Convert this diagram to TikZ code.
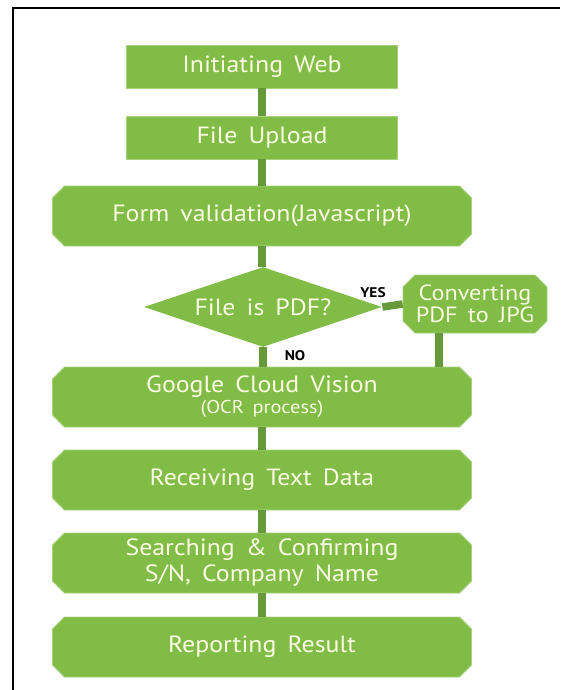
\documentclass[tikz,border=0pt]{standalone}
\usepackage{fontspec}
\setmainfont{PT Sans}[WordSpace=1.6, FakeStretch=1.1]
\usetikzlibrary{shapes.misc,shapes.geometric}
\definecolor{boxgreen}{HTML}{80BC46}
\definecolor{linegreen}{HTML}{66993A}
\definecolor{rimgreen}{HTML}{A6D27A}
\definecolor{txtcol}{HTML}{FCFBE4}
\begin{document}
\begin{tikzpicture}[x=1pt,y=-1pt,
  sqbox/.style={rectangle, fill=boxgreen, draw=rimgreen, line width=0.8pt, text=txtcol,
    font=\fontsize{23.5}{26}\selectfont, inner sep=0pt, align=center},
  chbox/.style={sqbox, chamfered rectangle, chamfered rectangle xsep=6pt, chamfered rectangle ysep=6pt},
  decision/.style={sqbox, diamond, draw=none, aspect=2.975},
  conn/.style={draw=linegreen, line width=7.5pt},
  lab/.style={font=\fontsize{14}{16}\selectfont\bfseries, text=black, inner sep=0pt}]
\useasboundingbox (0,0) rectangle (560,690);
\fill[white] (0,0) rectangle (560,690);
\draw[line width=1.4pt] (13,690) -- (13,8) -- (560,8);

\node[sqbox, minimum width=271pt, minimum height=43pt] (init) at (262,66.5) {Initiating Web};
\node[sqbox, minimum width=271pt, minimum height=43pt] (upload) at (262,137.5) {File Upload};
\node[chbox, minimum width=419pt, minimum height=60pt] (form) at (262,216) {Form validation(Javascript)};
\node[decision, minimum width=238pt, minimum height=80pt] (pdf) at (263,307) {File is PDF?};
\node[chbox, minimum width=144pt, minimum height=58pt, font=\fontsize{22}{22}\selectfont] (conv) at (475,304) {Converting\\PDF to JPG};
\node[chbox, minimum width=419pt, minimum height=60pt] (gcv) at (262,397) {Google Cloud Vision\\[-5pt]{\fontsize{18.5}{20}\selectfont (OCR process)}};
\node[chbox, minimum width=419pt, minimum height=60pt] (recv) at (262,480) {Receiving Text Data};
\node[chbox, minimum width=419pt, minimum height=60pt] (search) at (262,563) {Searching \& Confirming\\S/N, Company Name};
\node[chbox, minimum width=419pt, minimum height=60pt] (report) at (262,647) {Reporting Result};

\draw[conn] (init.south) -- (upload.north);
\draw[conn] (upload.south) -- (form.north);
\draw[conn] (form.south) -- (form.south |- pdf.north);
\draw[conn] (pdf.south) -- (gcv.north -| pdf.south);
\draw[conn] (pdf.east) -- (conv.west);
\draw[conn] ([xshift=-36pt]conv.south) -- ([xshift=-36pt]conv.south |- gcv.north);
\draw[conn] (gcv.south) -- (recv.north);
\draw[conn] (recv.south) -- (search.north);
\draw[conn] (search.south) -- (report.north);

\node[lab] (yes) at (373,293) {YES};
\node[lab] (no) at (295,356) {NO};
\end{tikzpicture}
\end{document}
